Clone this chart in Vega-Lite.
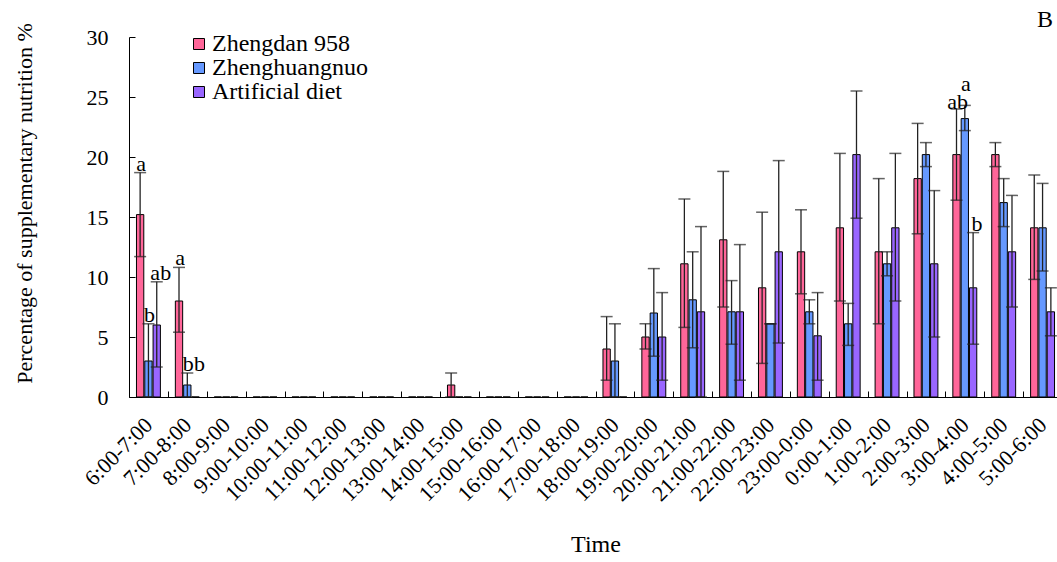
{
  "$schema": "https://vega.github.io/schema/vega-lite/v6.json",
  "width": 928,
  "height": 360,
  "autosize": "none",
  "padding": {"left": 129, "top": 37, "right": 0, "bottom": 165},
  "title": {"text": "B", "anchor": "end", "frame": "group", "fontSize": 24, "font": "Liberation Serif", "fontWeight": "normal", "color": "black", "baseline": "alphabetic", "offset": 7, "dx": -4, "dy": 35},
  "config": {
    "font": "Liberation Serif",
    "view": {"stroke": null},
    "axis": {"grid": false, "domainColor": "black", "tickColor": "black", "labelColor": "black", "titleColor": "black", "titleFontWeight": "normal", "labelFont": "Liberation Serif", "titleFont": "Liberation Serif", "domainWidth": 1, "tickWidth": 1}
  },
  "data": {"values": [
    {"time": "6:00-7:00", "series": "Zhengdan 958", "value": 15.2, "lo": 11.7, "hi": 18.7, "label": "a", "labelY": 18.7},
    {"time": "6:00-7:00", "series": "Zhenghuangnuo", "value": 3.0, "lo": 0, "hi": 6.1, "label": "b", "labelY": 6.1},
    {"time": "6:00-7:00", "series": "Artificial diet", "value": 6.0, "lo": 2.5, "hi": 9.6, "label": "ab", "labelY": 9.6},
    {"time": "7:00-8:00", "series": "Zhengdan 958", "value": 8.0, "lo": 5.4, "hi": 10.8, "label": "a", "labelY": 10.8},
    {"time": "7:00-8:00", "series": "Zhenghuangnuo", "value": 1.0, "lo": 0, "hi": 2.0, "label": "b", "labelY": 2.0},
    {"time": "7:00-8:00", "series": "Artificial diet", "value": 0, "label": "b", "labelY": 2.0},
    {"time": "8:00-9:00", "series": "Zhengdan 958", "value": 0},
    {"time": "8:00-9:00", "series": "Zhenghuangnuo", "value": 0},
    {"time": "8:00-9:00", "series": "Artificial diet", "value": 0},
    {"time": "9:00-10:00", "series": "Zhengdan 958", "value": 0},
    {"time": "9:00-10:00", "series": "Zhenghuangnuo", "value": 0},
    {"time": "9:00-10:00", "series": "Artificial diet", "value": 0},
    {"time": "10:00-11:00", "series": "Zhengdan 958", "value": 0},
    {"time": "10:00-11:00", "series": "Zhenghuangnuo", "value": 0},
    {"time": "10:00-11:00", "series": "Artificial diet", "value": 0},
    {"time": "11:00-12:00", "series": "Zhengdan 958", "value": 0},
    {"time": "11:00-12:00", "series": "Zhenghuangnuo", "value": 0},
    {"time": "11:00-12:00", "series": "Artificial diet", "value": 0},
    {"time": "12:00-13:00", "series": "Zhengdan 958", "value": 0},
    {"time": "12:00-13:00", "series": "Zhenghuangnuo", "value": 0},
    {"time": "12:00-13:00", "series": "Artificial diet", "value": 0},
    {"time": "13:00-14:00", "series": "Zhengdan 958", "value": 0},
    {"time": "13:00-14:00", "series": "Zhenghuangnuo", "value": 0},
    {"time": "13:00-14:00", "series": "Artificial diet", "value": 0},
    {"time": "14:00-15:00", "series": "Zhengdan 958", "value": 1.0, "lo": 0, "hi": 2.0},
    {"time": "14:00-15:00", "series": "Zhenghuangnuo", "value": 0},
    {"time": "14:00-15:00", "series": "Artificial diet", "value": 0},
    {"time": "15:00-16:00", "series": "Zhengdan 958", "value": 0},
    {"time": "15:00-16:00", "series": "Zhenghuangnuo", "value": 0},
    {"time": "15:00-16:00", "series": "Artificial diet", "value": 0},
    {"time": "16:00-17:00", "series": "Zhengdan 958", "value": 0},
    {"time": "16:00-17:00", "series": "Zhenghuangnuo", "value": 0},
    {"time": "16:00-17:00", "series": "Artificial diet", "value": 0},
    {"time": "17:00-18:00", "series": "Zhengdan 958", "value": 0},
    {"time": "17:00-18:00", "series": "Zhenghuangnuo", "value": 0},
    {"time": "17:00-18:00", "series": "Artificial diet", "value": 0},
    {"time": "18:00-19:00", "series": "Zhengdan 958", "value": 4.0, "lo": 1.4, "hi": 6.7},
    {"time": "18:00-19:00", "series": "Zhenghuangnuo", "value": 3.0, "lo": 0, "hi": 6.1},
    {"time": "18:00-19:00", "series": "Artificial diet", "value": 0},
    {"time": "19:00-20:00", "series": "Zhengdan 958", "value": 5.0, "lo": 4.0, "hi": 6.1},
    {"time": "19:00-20:00", "series": "Zhenghuangnuo", "value": 7.0, "lo": 3.4, "hi": 10.7},
    {"time": "19:00-20:00", "series": "Artificial diet", "value": 5.0, "lo": 1.4, "hi": 8.7},
    {"time": "20:00-21:00", "series": "Zhengdan 958", "value": 11.1, "lo": 5.8, "hi": 16.5},
    {"time": "20:00-21:00", "series": "Zhenghuangnuo", "value": 8.1, "lo": 4.1, "hi": 12.1},
    {"time": "20:00-21:00", "series": "Artificial diet", "value": 7.1, "lo": 0, "hi": 14.2},
    {"time": "21:00-22:00", "series": "Zhengdan 958", "value": 13.1, "lo": 7.5, "hi": 18.8},
    {"time": "21:00-22:00", "series": "Zhenghuangnuo", "value": 7.1, "lo": 4.4, "hi": 9.7},
    {"time": "21:00-22:00", "series": "Artificial diet", "value": 7.1, "lo": 1.4, "hi": 12.7},
    {"time": "22:00-23:00", "series": "Zhengdan 958", "value": 9.1, "lo": 2.8, "hi": 15.4},
    {"time": "22:00-23:00", "series": "Zhenghuangnuo", "value": 6.1, "lo": 6.1, "hi": 6.1},
    {"time": "22:00-23:00", "series": "Artificial diet", "value": 12.1, "lo": 4.5, "hi": 19.7},
    {"time": "23:00-0:00", "series": "Zhengdan 958", "value": 12.1, "lo": 8.6, "hi": 15.6},
    {"time": "23:00-0:00", "series": "Zhenghuangnuo", "value": 7.1, "lo": 6.1, "hi": 8.1},
    {"time": "23:00-0:00", "series": "Artificial diet", "value": 5.1, "lo": 1.4, "hi": 8.7},
    {"time": "0:00-1:00", "series": "Zhengdan 958", "value": 14.1, "lo": 8.0, "hi": 20.3},
    {"time": "0:00-1:00", "series": "Zhenghuangnuo", "value": 6.1, "lo": 4.3, "hi": 7.8},
    {"time": "0:00-1:00", "series": "Artificial diet", "value": 20.2, "lo": 14.9, "hi": 25.5},
    {"time": "1:00-2:00", "series": "Zhengdan 958", "value": 12.1, "lo": 6.1, "hi": 18.2},
    {"time": "1:00-2:00", "series": "Zhenghuangnuo", "value": 11.1, "lo": 10.1, "hi": 12.1},
    {"time": "1:00-2:00", "series": "Artificial diet", "value": 14.1, "lo": 8.0, "hi": 20.3},
    {"time": "2:00-3:00", "series": "Zhengdan 958", "value": 18.2, "lo": 13.6, "hi": 22.8},
    {"time": "2:00-3:00", "series": "Zhenghuangnuo", "value": 20.2, "lo": 19.2, "hi": 21.2},
    {"time": "2:00-3:00", "series": "Artificial diet", "value": 11.1, "lo": 5.0, "hi": 17.2},
    {"time": "3:00-4:00", "series": "Zhengdan 958", "value": 20.2, "lo": 16.4, "hi": 24.0, "label": "ab", "labelY": 23.8},
    {"time": "3:00-4:00", "series": "Zhenghuangnuo", "value": 23.2, "lo": 22.2, "hi": 24.3, "label": "a", "labelY": 25.3},
    {"time": "3:00-4:00", "series": "Artificial diet", "value": 9.1, "lo": 4.4, "hi": 13.7, "label": "b", "labelY": 13.7},
    {"time": "4:00-5:00", "series": "Zhengdan 958", "value": 20.2, "lo": 19.2, "hi": 21.2},
    {"time": "4:00-5:00", "series": "Zhenghuangnuo", "value": 16.2, "lo": 14.2, "hi": 18.2},
    {"time": "4:00-5:00", "series": "Artificial diet", "value": 12.1, "lo": 7.5, "hi": 16.8},
    {"time": "5:00-6:00", "series": "Zhengdan 958", "value": 14.1, "lo": 9.8, "hi": 18.5},
    {"time": "5:00-6:00", "series": "Zhenghuangnuo", "value": 14.1, "lo": 10.5, "hi": 17.8},
    {"time": "5:00-6:00", "series": "Artificial diet", "value": 7.1, "lo": 5.1, "hi": 9.1}
  ]},
  "encoding": {
    "x": {
      "field": "time", "type": "nominal", "sort": null,
      "scale": {"paddingInner": 0, "paddingOuter": 0, "range": [0, 933]},
      "axis": {"title": "Time", "labelAngle": -45, "labelAlign": "right", "labelBaseline": "middle", "labelFontSize": 22, "titleFontSize": 24, "tickBand": "extent", "tickSize": -6, "labelPadding": 30, "titlePadding": 28}
    },
    "xOffset": {"field": "series", "type": "nominal", "sort": ["Zhengdan 958", "Zhenghuangnuo", "Artificial diet"], "scale": {"paddingInner": 0.12, "paddingOuter": 0.9}}
  },
  "layer": [
    {
      "mark": {"type": "bar", "stroke": "black", "strokeWidth": 1},
      "encoding": {
        "y": {"field": "value", "type": "quantitative", "scale": {"domain": [0, 30], "nice": false},
          "axis": {"title": "Percentage of supplementary nutrition %", "values": [0, 5, 10, 15, 20, 25, 30], "labelFontSize": 22, "titleFontSize": 22, "tickSize": -6, "labelPadding": 27, "titlePadding": 50, "titleY": 166}},
        "color": {"field": "series", "type": "nominal", "sort": ["Zhengdan 958", "Zhenghuangnuo", "Artificial diet"],
          "scale": {"domain": ["Zhengdan 958", "Zhenghuangnuo", "Artificial diet"], "range": ["#FF6699", "#6699FF", "#9966FF"]},
          "legend": {"title": null, "orient": "none", "legendX": 58, "legendY": -5, "padding": 0, "symbolType": "square", "symbolSize": 121, "symbolStrokeColor": "black", "symbolStrokeWidth": 1, "labelFontSize": 24, "labelFont": "Liberation Serif", "labelColor": "black", "labelOffset": 1, "rowPadding": 0}}
      }
    },
    {
      "transform": [{"filter": "isValid(datum.hi)"}],
      "mark": {"type": "rule", "color": "#222", "strokeWidth": 1.3},
      "encoding": {"y": {"field": "lo", "type": "quantitative"}, "y2": {"field": "hi"}}
    },
    {
      "transform": [{"filter": "isValid(datum.hi)"}],
      "mark": {"type": "tick", "color": "#222", "size": 12, "thickness": 1.5},
      "encoding": {"y": {"field": "hi", "type": "quantitative"}}
    },
    {
      "transform": [{"filter": "isValid(datum.hi)"}],
      "mark": {"type": "tick", "color": "#222", "size": 12, "thickness": 1.5},
      "encoding": {"y": {"field": "lo", "type": "quantitative"}}
    },
    {
      "transform": [{"filter": "isValid(datum.label) && datum.series !== 'Artificial diet'"}],
      "mark": {"type": "text", "fontSize": 22, "font": "Liberation Serif", "color": "black", "baseline": "alphabetic", "align": "center", "dy": -2, "dx": 1},
      "encoding": {"y": {"field": "labelY", "type": "quantitative"}, "text": {"field": "label"}}
    },
    {
      "transform": [{"filter": "isValid(datum.label) && datum.series === 'Artificial diet'"}],
      "mark": {"type": "text", "fontSize": 22, "font": "Liberation Serif", "color": "black", "baseline": "alphabetic", "align": "center", "dy": -2, "dx": 4},
      "encoding": {"y": {"field": "labelY", "type": "quantitative"}, "text": {"field": "label"}}
    }
  ]
}
